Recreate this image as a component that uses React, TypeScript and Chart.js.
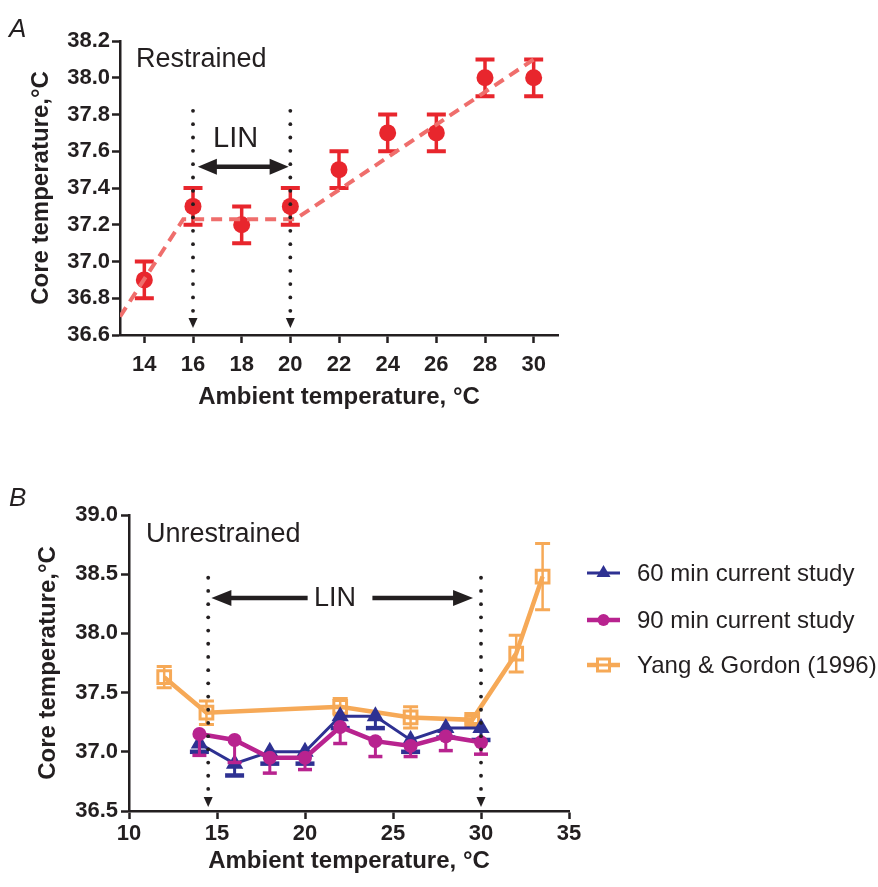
import React, { useEffect, useRef } from "react";
import { Chart, registerables } from "chart.js";
Chart.register(...registerables);

const FONT = "'Liberation Sans', Arial, Helvetica, sans-serif";
const INK = "#231f20";

// ---------- Panel A (restrained) ----------
const ambientA = [14, 16, 18, 20, 22, 24, 26, 28, 30];
const coreA = [36.9, 37.3, 37.2, 37.3, 37.5, 37.7, 37.7, 38.0, 38.0];
const semA = [0.1, 0.1, 0.1, 0.1, 0.1, 0.1, 0.1, 0.1, 0.1];
const fitXA = [13, 15.6, 20.2, 30];
const fitYA = [36.7, 37.23, 37.23, 38.1];
const ticksXA = [14, 16, 18, 20, 22, 24, 26, 28, 30];
const ticksYA = [36.6, 36.8, 37.0, 37.2, 37.4, 37.6, 37.8, 38.0, 38.2];
const linA = [16, 20];
const linArrowA = [16.2, 19.93];
const linArrowYA = 37.515;

// ---------- Panel B (unrestrained) ----------
const ambientB = [14, 16, 18, 20, 22, 24, 26, 28, 30];
const core60 = [37.07, 36.9, 37.0, 37.0, 37.3, 37.3, 37.1, 37.2, 37.2];
const sem60 = [0.07, 0.1, 0.1, 0.1, 0.1, 0.1, 0.1, 0.08, 0.1];
const core90 = [37.15, 37.1, 36.95, 36.95, 37.21, 37.09, 37.05, 37.13, 37.08];
const sem90 = [0.18, 0.19, 0.13, 0.1, 0.14, 0.13, 0.09, 0.12, 0.1];
const ambientYG = [12, 14.4, 22, 26, 29.5, 32, 33.5];
const coreYG = [37.63, 37.33, 37.38, 37.29, 37.27, 37.83, 38.48];
const semYG = [0.09, 0.1, 0.07, 0.09, 0.03, 0.155, 0.28];
const ticksXB = [10, 15, 20, 25, 30, 35];
const ticksYB = [36.5, 37.0, 37.5, 38.0, 38.5, 39.0];
const linB = [14.5, 30];
const linLeftArrowB = [14.68, 20.15];
const linRightArrowB = [23.83, 29.55];
const linArrowYB = 38.3;

const RED = "#e8262d";
const FIT = "#ef6e6c";
const BLUE = "#2e3192";
const MAGENTA = "#b8238f";
const ORANGE = "#f6a957";

const pts = (xs: number[], ys: number[]) => xs.map((x, i) => ({ x, y: ys[i] }));

const errorBarPlugin = {
  id: "errorBars",
  beforeDatasetDraw(chart: any, args: any) {
    const ds: any = chart.data.datasets[args.index];
    if (!ds.errors) return;
    const ys = chart.scales.y;
    const ctx = chart.ctx;
    ctx.save();
    ctx.strokeStyle = ds.borderColor;
    args.meta.data.forEach((pt: any, i: number) => {
      const raw = ds.data[i];
      const e = ds.errors[i];
      const x = pt.x;
      const yC = ys.getPixelForValue(raw.y);
      const yLo = ys.getPixelForValue(raw.y - e);
      const yHi = ys.getPixelForValue(raw.y + e);
      const top = ds.errMode === "down" ? yC : yHi;
      ctx.lineWidth = ds.errWidth;
      ctx.beginPath();
      ctx.moveTo(x, top);
      ctx.lineTo(x, yLo);
      ctx.stroke();
      ctx.lineWidth = ds.capWidth;
      ctx.beginPath();
      ctx.moveTo(x - ds.capHalf, yLo);
      ctx.lineTo(x + ds.capHalf, yLo);
      if (ds.errMode !== "down") {
        ctx.moveTo(x - ds.capHalf, yHi);
        ctx.lineTo(x + ds.capHalf, yHi);
      }
      ctx.stroke();
    });
    ctx.restore();
  },
};

function dottedDrop(ctx: any, x: number, yTop: number, yTip: number, gap: number) {
  ctx.save();
  ctx.fillStyle = INK;
  const lastDot = yTip - 17;
  for (let y = yTop; y <= lastDot + 0.5; y += gap) {
    ctx.beginPath();
    ctx.arc(x, y, 1.9, 0, Math.PI * 2);
    ctx.fill();
  }
  ctx.beginPath();
  ctx.moveTo(x - 4.5, yTip - 10);
  ctx.lineTo(x + 4.5, yTip - 10);
  ctx.lineTo(x, yTip);
  ctx.closePath();
  ctx.fill();
  ctx.restore();
}

function arrow(ctx: any, x1: number, x2: number, y: number, startHead: boolean, endHead: boolean, lw: number, hl: number, hw: number) {
  ctx.save();
  ctx.strokeStyle = INK;
  ctx.fillStyle = INK;
  ctx.lineWidth = lw;
  ctx.beginPath();
  ctx.moveTo(startHead ? x1 + hl - 2 : x1, y);
  ctx.lineTo(endHead ? x2 - hl + 2 : x2, y);
  ctx.stroke();
  if (startHead) {
    ctx.beginPath();
    ctx.moveTo(x1, y);
    ctx.lineTo(x1 + hl, y - hw);
    ctx.lineTo(x1 + hl, y + hw);
    ctx.closePath();
    ctx.fill();
  }
  if (endHead) {
    ctx.beginPath();
    ctx.moveTo(x2, y);
    ctx.lineTo(x2 - hl, y - hw);
    ctx.lineTo(x2 - hl, y + hw);
    ctx.closePath();
    ctx.fill();
  }
  ctx.restore();
}

const annotA = {
  id: "annotA",
  afterDatasetsDraw(chart: any) {
    const ctx = chart.ctx;
    const xs = chart.scales.x;
    const ys = chart.scales.y;
    const ca = chart.chartArea;
    linA.forEach((v) => dottedDrop(ctx, xs.getPixelForValue(v), ys.getPixelForValue(37.82), ca.bottom - 7, 13.33));
    arrow(ctx, xs.getPixelForValue(linArrowA[0]), xs.getPixelForValue(linArrowA[1]), ys.getPixelForValue(linArrowYA), true, true, 4.5, 19, 8);
    ctx.save();
    ctx.fillStyle = INK;
    ctx.textBaseline = "alphabetic";
    ctx.font = `29px ${FONT}`;
    ctx.textAlign = "center";
    ctx.fillText("LIN", xs.getPixelForValue(17.75), ys.getPixelForValue(37.624));
    ctx.textAlign = "left";
    ctx.font = `27px ${FONT}`;
    ctx.fillText("Restrained", ca.left + 16, ca.top + 26);
    ctx.font = `italic 26px ${FONT}`;
    ctx.fillText("A", 9, 37);
    ctx.restore();
  },
};

const annotB = {
  id: "annotB",
  afterDatasetsDraw(chart: any) {
    const ctx = chart.ctx;
    const xs = chart.scales.x;
    const ys = chart.scales.y;
    const ca = chart.chartArea;
    linB.forEach((v) => dottedDrop(ctx, xs.getPixelForValue(v), ys.getPixelForValue(38.47), ca.bottom - 4, 13.2));
    const yA = ys.getPixelForValue(linArrowYB);
    arrow(ctx, xs.getPixelForValue(linLeftArrowB[0]), xs.getPixelForValue(linLeftArrowB[1]), yA, true, false, 4.5, 20, 8);
    arrow(ctx, xs.getPixelForValue(linRightArrowB[0]), xs.getPixelForValue(linRightArrowB[1]), yA, false, true, 4.5, 20, 8);
    ctx.save();
    ctx.fillStyle = INK;
    ctx.textBaseline = "alphabetic";
    ctx.font = `27px ${FONT}`;
    ctx.textAlign = "center";
    ctx.fillText("LIN", xs.getPixelForValue(21.7), ys.getPixelForValue(38.23));
    ctx.textAlign = "left";
    ctx.fillText("Unrestrained", ca.left + 17, ca.top + 27);
    ctx.font = `italic 26px ${FONT}`;
    ctx.fillText("B", 9, 66);

    // legend
    const rows = [133, 180, 225];
    const ds = chart.data.datasets;
    [0, 1, 2].forEach((di, r) => {
      const d: any = ds[di];
      const y = rows[r];
      const x1 = 587, x2 = 620, xm = 603.5;
      ctx.strokeStyle = d.borderColor;
      ctx.lineWidth = d.borderWidth;
      ctx.beginPath();
      ctx.moveTo(x1, y);
      ctx.lineTo(x2, y);
      ctx.stroke();
      ctx.fillStyle = d.pointBackgroundColor;
      if (d.pointStyle === "triangle") {
        ctx.beginPath();
        ctx.moveTo(xm, y - 8);
        ctx.lineTo(xm + 7, y + 4);
        ctx.lineTo(xm - 7, y + 4);
        ctx.closePath();
        ctx.fill();
      } else if (d.pointStyle === "circle") {
        ctx.beginPath();
        ctx.arc(xm, y, 6, 0, Math.PI * 2);
        ctx.fill();
      } else {
        ctx.fillStyle = "#fff";
        ctx.fillRect(xm - 6, y - 6, 12, 12);
        ctx.strokeStyle = d.borderColor;
        ctx.lineWidth = 3;
        ctx.strokeRect(xm - 6, y - 6, 12, 12);
        ctx.beginPath();
        ctx.moveTo(xm - 6, y);
        ctx.lineTo(xm + 6, y);
        ctx.stroke();
      }
      ctx.fillStyle = INK;
      ctx.font = `24px ${FONT}`;
      ctx.textAlign = "left";
      ctx.textBaseline = "middle";
      ctx.fillText(d.label, 637, y + 1);
    });
    ctx.restore();
  },
};

function axisCommon(min: number, max: number, tickVals: number[], decimals: number, isY: boolean, title: string, fitSize: number, titlePad: any, tickPad: number, titleSize: number) {
  return {
    type: "linear",
    min,
    max,
    afterBuildTicks: (s: any) => {
      s.ticks = tickVals.map((v) => ({ value: v }));
    },
    afterFit: (s: any) => {
      if (isY) s.width = fitSize;
      else s.height = fitSize;
    },
    grid: { display: true, drawOnChartArea: false, drawTicks: true, tickLength: 8, tickWidth: 2.5, tickColor: INK },
    border: { display: true, color: INK, width: 2.5 },
    ticks: {
      color: INK,
      padding: tickPad,
      maxRotation: 0,
      autoSkip: false,
      font: { family: FONT, size: 22, weight: "bold" },
      callback: (v: any) => Number(v).toFixed(decimals),
    },
    title: {
      display: true,
      text: title,
      color: INK,
      font: { family: FONT, size: titleSize, weight: "bold" },
      padding: titlePad,
    },
  };
}

function makeA(canvas: HTMLCanvasElement) {
  return new Chart(canvas, {
    type: "line",
    data: {
      datasets: [
        {
          label: "fit",
          data: pts(fitXA, fitYA),
          borderColor: FIT,
          borderWidth: 4,
          borderDash: [11, 7],
          pointRadius: 0,
          fill: false,
          order: 0,
        } as any,
        {
          label: "Restrained",
          data: pts(ambientA, coreA),
          showLine: false,
          borderColor: RED,
          backgroundColor: RED,
          pointBackgroundColor: RED,
          pointBorderColor: RED,
          pointRadius: 8.5,
          pointBorderWidth: 0,
          errors: semA,
          errMode: "both",
          errWidth: 3.5,
          capWidth: 4,
          capHalf: 9.5,
          order: 1,
        } as any,
      ],
    },
    options: {
      responsive: false,
      maintainAspectRatio: false,
      animation: false,
      layout: { padding: { left: 0, top: 41, right: 320, bottom: 0 } },
      plugins: { legend: { display: false }, tooltip: { enabled: false } },
      scales: {
        x: axisCommon(13, 31, ticksXA, 0, false, "Ambient temperature, °C", 105, { top: 0, bottom: 28 }, 9, 24) as any,
        y: axisCommon(36.6, 38.2, ticksYA, 1, true, "Core temperature,°C", 120, { top: 27, bottom: 0 }, 2, 24) as any,
      },
    },
    plugins: [errorBarPlugin, annotA],
  } as any);
}

function makeB(canvas: HTMLCanvasElement) {
  return new Chart(canvas, {
    type: "line",
    data: {
      datasets: [
        {
          label: "60 min current study",
          data: pts(ambientB, core60),
          borderColor: BLUE,
          backgroundColor: BLUE,
          borderWidth: 3,
          pointStyle: "triangle",
          pointRadius: 10,
          pointBackgroundColor: BLUE,
          pointBorderColor: BLUE,
          pointBorderWidth: 0,
          errors: sem60,
          errMode: "down",
          errWidth: 3,
          capWidth: 4.5,
          capHalf: 9.5,
          order: 1,
        } as any,
        {
          label: "90 min current study",
          data: pts(ambientB, core90),
          borderColor: MAGENTA,
          backgroundColor: MAGENTA,
          borderWidth: 4.5,
          pointStyle: "circle",
          pointRadius: 7,
          pointBackgroundColor: MAGENTA,
          pointBorderColor: MAGENTA,
          pointBorderWidth: 0,
          errors: sem90,
          errMode: "down",
          errWidth: 3,
          capWidth: 3.5,
          capHalf: 7,
          order: 0,
        } as any,
        {
          label: "Yang & Gordon (1996)",
          data: pts(ambientYG, coreYG),
          borderColor: ORANGE,
          backgroundColor: ORANGE,
          borderWidth: 4.5,
          pointStyle: "rect",
          pointRadius: 9,
          pointBackgroundColor: "rgba(255,255,255,0)",
          pointBorderColor: ORANGE,
          pointBorderWidth: 3,
          errors: semYG,
          errMode: "both",
          errWidth: 2.5,
          capWidth: 3,
          capHalf: 7.5,
          order: 2,
        } as any,
      ],
    },
    options: {
      responsive: false,
      maintainAspectRatio: false,
      animation: false,
      layout: { padding: { left: 0, top: 75, right: 309, bottom: 0 } },
      plugins: { legend: { display: false }, tooltip: { enabled: false } },
      scales: {
        x: axisCommon(10, 35, ticksXB, 0, false, "Ambient temperature, °C", 76, { top: 0, bottom: 11 }, 2, 24) as any,
        y: axisCommon(36.5, 39.0, ticksYB, 1, true, "Core temperature,°C", 129, { top: 34, bottom: 0 }, 3, 24) as any,
      },
    },
    plugins: [errorBarPlugin, annotB],
  } as any);
}

export default function App() {
  const refA = useRef<HTMLCanvasElement>(null);
  const refB = useRef<HTMLCanvasElement>(null);
  useEffect(() => {
    const a = makeA(refA.current!);
    const b = makeB(refB.current!);
    return () => {
      a.destroy();
      b.destroy();
    };
  }, []);
  return (
    <div style={{ position: "fixed", left: 0, top: 0, width: 878, height: 887, background: "#fff" }}>
      <canvas ref={refA} width={878} height={440} style={{ position: "absolute", left: 0, top: 0, width: 878, height: 440 }} />
      <canvas ref={refB} width={878} height={447} style={{ position: "absolute", left: 0, top: 440, width: 878, height: 447 }} />
    </div>
  );
}
